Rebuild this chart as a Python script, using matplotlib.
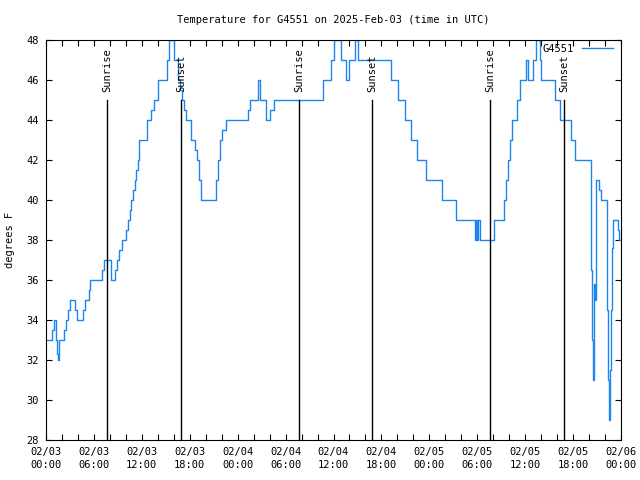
import matplotlib
matplotlib.use('Agg')
import matplotlib.pyplot as plt
import matplotlib.dates as mdates
import pandas as pd

# hours since 2025-02-03 00:00 UTC and temperature (F) at each change
hours = [0.0, 0.7, 0.95, 1.2, 1.4, 1.55, 1.62, 2.2, 2.5, 2.75, 3.0, 3.6, 3.9, 4.65, 4.85,
         5.4, 5.55, 7.05, 7.2, 8.1, 8.7, 8.95, 9.2, 9.55, 10.05, 10.3, 10.5, 10.7, 10.9,
         11.1, 11.3, 11.5, 11.7, 12.7, 13.1, 13.5, 14.0, 15.1, 15.4, 15.75, 16.05, 16.5,
         16.8, 17.0, 17.3, 17.5, 18.1, 18.7, 18.9, 19.2, 19.4, 21.25, 21.5, 21.8, 22.0,
         22.6, 25.25, 25.55, 26.6, 26.85, 27.5, 28.1, 28.6, 34.7, 35.7, 36.1, 36.9, 37.6,
         38.0, 38.7, 39.1, 43.2, 44.1, 44.9, 45.7, 46.4, 47.6, 49.6, 51.3, 53.75, 53.85,
         54.0, 54.15, 54.35, 56.1, 57.35, 57.6, 57.85, 58.1, 58.4, 59.0, 59.35, 60.1,
         60.3, 61.0, 61.3, 61.8, 62.0, 63.7, 64.3, 65.8, 66.2, 68.2, 68.3, 68.4, 68.5,
         68.6, 68.7, 68.9, 69.2, 69.5, 70.2, 70.3, 70.4, 70.5, 70.65, 70.75, 70.85, 71.0,
         71.6, 71.7, 71.95]
temps = [33, 33.5, 34, 33, 32.3, 32, 33, 33.5, 34, 34.5, 35, 34.5, 34, 34.5, 35,
         35.5, 36, 36.5, 37, 36, 36.5, 37, 37.5, 38, 38.5, 39, 39.5, 40, 40.5,
         41, 41.5, 42, 43, 44, 44.5, 45, 46, 47, 48, 48, 47, 46,
         45.5, 45, 44.5, 44, 43, 42.5, 42, 41, 40, 41, 42, 43,
         43.5, 44, 44.5, 45, 46, 45, 44, 44.5, 45, 46, 47, 48, 47, 46,
         47, 48, 47, 46, 45, 44, 43, 42, 41, 40, 39, 38, 39,
         38, 39, 38, 39, 40, 41, 42, 43, 44, 45, 46, 47,
         46, 47, 48, 47, 46, 45, 44, 43, 42, 41, 36.5, 33, 31,
         35.8, 35, 41, 40.5, 40, 38, 34.5, 31, 29, 31.5, 34.5, 37.6, 39,
         38.5, 38, 38]

sunrise_hours = [7.68, 31.72, 55.64]
sunset_hours = [16.95, 40.87, 64.9]

start = pd.Timestamp('2025-02-03 00:00')
times = start + pd.to_timedelta(hours, unit='h')

plt.rcParams['font.family'] = 'DejaVu Sans Mono'
plt.rcParams['font.size'] = 6.5

fig = plt.figure(figsize=(6.4, 4.8), dpi=100)
ax = fig.add_axes([46 / 640, 40 / 480, 575 / 640, 400 / 480])

ax.plot(times, temps, drawstyle='steps-post', color='#1e84f0', lw=1.0, label='G4551')

for h in sunrise_hours:
    t = start + pd.Timedelta(hours=h)
    ax.plot([t, t], [28, 45], color='black', lw=1.0)
    ax.text(t, 45.4, 'Sunrise', rotation=90, ha='center', va='bottom', fontsize=7.5)
for h in sunset_hours:
    t = start + pd.Timedelta(hours=h)
    ax.plot([t, t], [28, 45], color='black', lw=1.0)
    ax.text(t, 45.4, 'Sunset', rotation=90, ha='center', va='bottom', fontsize=7.5)

ax.set_xlim(start, start + pd.Timedelta(hours=72))
ax.set_ylim(28, 48)
ax.set_yticks(range(28, 49, 2))
ax.xaxis.set_major_locator(mdates.HourLocator(byhour=[0, 6, 12, 18]))
ax.xaxis.set_minor_locator(mdates.HourLocator(byhour=range(0, 24, 2)))
ax.xaxis.set_major_formatter(mdates.DateFormatter('%m/%d\n%H:%M'))
ax.tick_params(which='both', direction='in', top=True, right=True, length=4, width=0.8,
               labelsize=7.5, pad=5)
for lbl in ax.get_xticklabels():
    lbl.set_linespacing(1.4)

ax.set_ylabel('degrees F', fontsize=7.5, labelpad=8)
ax.set_title('Temperature for G4551 on 2025-Feb-03 (time in UTC)', fontsize=7.5, pad=12)
ax.legend(loc='upper right', bbox_to_anchor=(0.99, 0.995), frameon=False,
          markerfirst=False, handlelength=3.0, fontsize=7.5, borderaxespad=0,
          borderpad=0.2)

fig.savefig('out.png', dpi=100)
